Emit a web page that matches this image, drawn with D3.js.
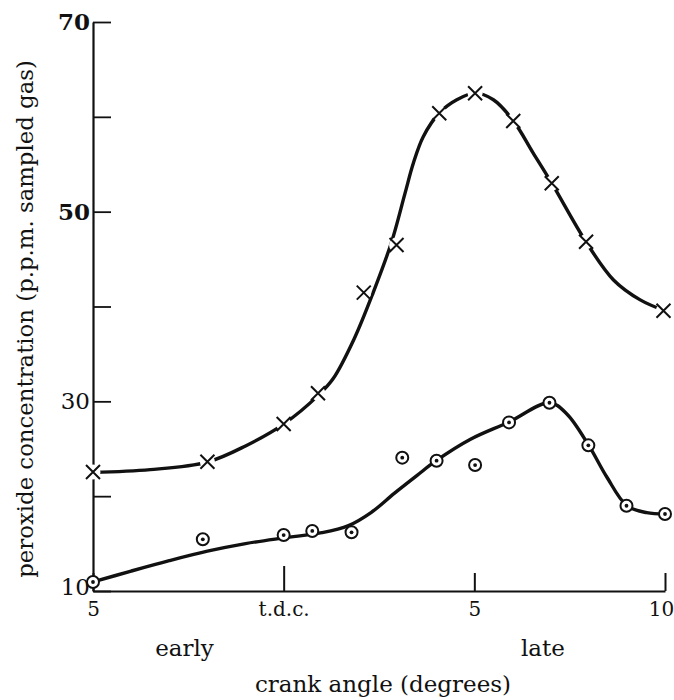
<!DOCTYPE html>
<html>
<head>
<meta charset="utf-8">
<script src="https://cdn.jsdelivr.net/npm/d3@7"></script>
<style>
  html, body { margin: 0; padding: 0; background: #fff; }
  svg { display: block; }
  text { font-family: "DejaVu Serif", "Liberation Serif", serif; fill: #111; }
</style>
</head>
<body>
<svg id="chart" width="674" height="700"></svg>
<script>
// Crank angle (degrees; negative = early, positive = late) and measured peroxide
// concentration (p.p.m. of sampled gas) for the two series.
const crossAngle = [-5, -2, 0, 0.9, 2.1, 2.96, 4.08, 5.02, 6.02, 7.03, 7.93, 9.96];
const crossConc  = [22.55, 23.63, 27.61, 30.85, 41.46, 46.49, 60.37, 62.48, 59.56, 52.99, 46.83, 39.56];

const dotAngle = [-5, -2.12, 0, 0.75, 1.78, 3.11, 4.01, 5.02, 5.91, 6.97, 7.99, 8.99, 10];
const dotConc  = [10.95, 15.45, 15.9, 16.33, 16.19, 24.06, 23.74, 23.28, 27.78, 29.85, 25.36, 18.99, 18.12];

// Hand-faired curves drawn through each series.
const crossCurveAngle = [-5, -3.5, -2, -1, 0, 0.9, 1.3, 1.85, 2.35, 2.83, 3.18, 3.4, 3.66, 4.08, 4.54, 5.02, 5.5, 6.02, 6.54, 7.03, 7.93, 8.65, 9.35, 10];
const crossCurveConc  = [22.5, 22.8, 23.6, 25.3, 27.6, 30.6, 32.4, 36.6, 41.5, 46.8, 51.9, 55.1, 57.9, 60.4, 61.8, 62.5, 61.8, 59.6, 56.2, 53.0, 46.8, 42.8, 40.7, 39.55];

const dotCurveAngle = [-5, -4, -3, -2, -1, 0, 1.0, 1.7, 2.3, 2.9, 3.5, 4.0, 4.9, 5.9, 6.97, 7.42, 8.0, 8.47, 9.0, 9.52, 10];
const dotCurveConc  = [10.95, 12.1, 13.2, 14.2, 15.0, 15.6, 16.15, 16.9, 18.3, 20.3, 22.2, 23.74, 26.0, 27.8, 29.85, 28.7, 25.36, 22.05, 19.0, 18.26, 18.12];

// Axis ticks and their labels.
const yTickValues = [10, 20, 30, 40, 50, 60, 70];
const yTickLabels = { 10: "10", 30: "30", 50: "50", 70: "70" };
const xTickValues = [-5, 0, 5, 10];
const xTickLabels = ["5", "t.d.c.", "5", "10"];
const sideLabels = ["early", "late"];
const sideLabelAngles = [-2.6, 6.8];

const xTitle = "crank angle (degrees)";
const yTitle = "peroxide concentration (p.p.m. sampled gas)";

// ---- drawing ----
const svg = d3.select("#chart");
const ink = "#111";
const boldTicks = new Set([50, 70]);

const x = d3.scaleLinear().domain([-5, 10]).range([93, 665]);
const y = d3.scaleLinear().domain([10, 70]).range([591, 22]);

// y axis: ticks pointing inward
const yAxis = svg.append("g")
  .attr("transform", `translate(${x(-5)},0)`)
  .call(d3.axisLeft(y)
    .tickValues(yTickValues)
    .tickSize(-18)
    .tickSizeOuter(0)
    .tickPadding(3)
    .tickFormat(d => yTickLabels[d] || ""));
yAxis.select(".domain").attr("stroke", ink).attr("stroke-width", 2.2);
yAxis.selectAll(".tick line").attr("stroke", ink).attr("stroke-width", 1.8);
yAxis.selectAll(".tick text")
  .attr("font-family", "DejaVu Serif, serif")
  .attr("font-size", 23)
  .attr("fill", ink)
  .attr("font-weight", d => boldTicks.has(d) ? "bold" : "normal")
  .attr("dy", d => d === 10 ? "0.15em" : "0.32em");

// x axis: ticks pointing up
const xAxis = svg.append("g")
  .attr("transform", `translate(0,${y(10)})`)
  .call(d3.axisBottom(x)
    .tickValues(xTickValues)
    .tickSize(-18)
    .tickSizeOuter(0)
    .tickPadding(11)
    .tickFormat((d, i) => xTickLabels[i]));
xAxis.select(".domain").attr("stroke", ink).attr("stroke-width", 2.2);
xAxis.selectAll(".tick line")
  .attr("stroke", ink).attr("stroke-width", 2)
  .attr("y2", d => d === 0 ? -25 : -18);
xAxis.selectAll(".tick text")
  .attr("font-family", "DejaVu Serif, serif")
  .attr("font-size", 20)
  .attr("fill", ink)
  .attr("dx", d => d === 10 ? -4 : 0);

// early / late annotations
svg.selectAll("text.side")
  .data(sideLabels)
  .join("text")
  .attr("class", "side")
  .attr("x", (d, i) => x(sideLabelAngles[i]))
  .attr("y", 656)
  .attr("text-anchor", "middle")
  .attr("font-size", 23)
  .text(d => d);

// axis titles
svg.append("text")
  .attr("x", 383).attr("y", 692)
  .attr("text-anchor", "middle")
  .attr("font-size", 23)
  .text(xTitle);

svg.append("text")
  .attr("transform", "translate(33,319) rotate(-90)")
  .attr("text-anchor", "middle")
  .attr("font-size", 22.8)
  .text(yTitle);

// faired curves
const line = d3.line()
  .x(d => x(d[0]))
  .y(d => y(d[1]))
  .curve(d3.curveCatmullRom.alpha(0.5));

svg.append("path")
  .datum(crossCurveAngle.map((a, i) => [a, crossCurveConc[i]]))
  .attr("d", line)
  .attr("fill", "none")
  .attr("stroke", ink)
  .attr("stroke-width", 3.4)
  .attr("stroke-linecap", "round");

svg.append("path")
  .datum(dotCurveAngle.map((a, i) => [a, dotCurveConc[i]]))
  .attr("d", line)
  .attr("fill", "none")
  .attr("stroke", ink)
  .attr("stroke-width", 3.4)
  .attr("stroke-linecap", "round");

// cross markers, each with a small white break in the curve behind it
const crosses = svg.append("g").selectAll("g")
  .data(crossAngle.map((a, i) => [a, crossConc[i]]))
  .join("g")
  .attr("transform", d => `translate(${x(d[0])},${y(d[1])})`);
crosses.append("circle")
  .attr("r", 7.5)
  .attr("fill", "#fff");
crosses.append("path")
  .attr("d", "M-7,-7L7,7M-7,7L7,-7")
  .attr("stroke", ink)
  .attr("stroke-width", 2)
  .attr("fill", "none");

// ringed-dot markers
const dots = svg.append("g").selectAll("g")
  .data(dotAngle.map((a, i) => [a, dotConc[i]]))
  .join("g")
  .attr("transform", d => `translate(${x(d[0])},${y(d[1])})`);
dots.append("circle")
  .attr("r", 6)
  .attr("fill", "#fff")
  .attr("stroke", ink)
  .attr("stroke-width", 2);
dots.append("circle")
  .attr("r", 1.9)
  .attr("fill", ink);
</script>
</body>
</html>
